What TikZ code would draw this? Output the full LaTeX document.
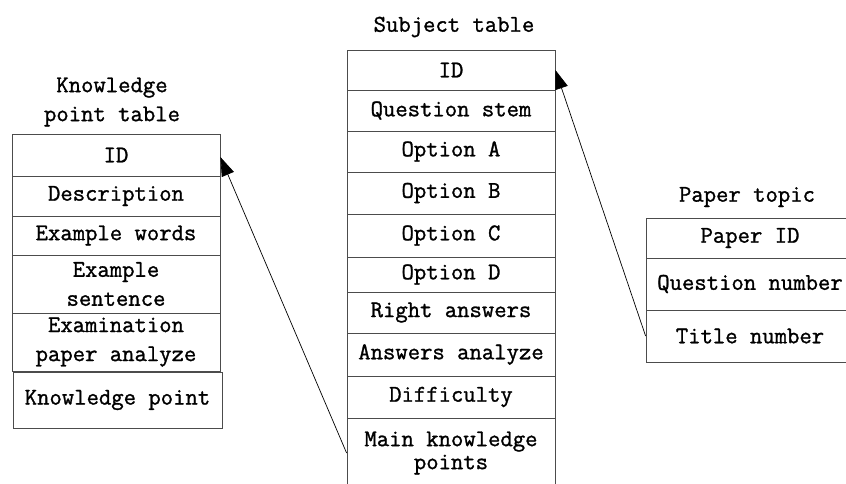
\documentclass[tikz,border=0pt]{standalone}
\usepackage{fontspec}
\newfontfamily\reffont{Latin Modern Mono}[RawFeature={embolden=1.2}]
\usetikzlibrary{arrows.meta}
\begin{document}
\begin{tikzpicture}[x=1pt,y=-1pt,
  txt/.style={font=\fontsize{24}{29}\selectfont\reffont, inner sep=0pt, align=center},
  cell/.style={txt, draw=black!70, line width=0.8pt, rectangle, minimum width=208pt},
  link/.style={draw=black, line width=0.7pt, -{Triangle[length=19pt,width=13pt]}}]
\useasboundingbox (0,0) rectangle (846,483);
\clip (0,0) rectangle (846,483);
% Knowledge point table
\node[txt] (ktitle) at (112,102) {Knowledge\\point table};
\node[cell, minimum height=42pt] (k1) at (116,155) {ID};
\node[cell, minimum height=40pt] (k2) at (116,196) {Description};
\node[cell, minimum height=39pt] (k3) at (116,235.5) {Example words};
\node[cell, minimum height=58pt] (k4) at (116,284) {Example\\sentence};
\node[cell, minimum height=58pt] (k5) at (116,342) {Examination\\paper analyze};
\node[cell, minimum height=56pt, minimum width=209pt] (k6) at (117.5,400) {Knowledge point};
% Subject table
\node[txt] (stitle) at (454,27) {Subject table};
\node[cell, minimum height=40pt] (s1) at (451,70) {ID};
\node[cell, minimum height=41pt] (s2) at (451,110.5) {Question stem};
\node[cell, minimum height=41pt] (s3) at (451,151.5) {Option A};
\node[cell, minimum height=42pt] (s4) at (451,193) {Option B};
\node[cell, minimum height=43pt] (s5) at (451,235.5) {Option C};
\node[cell, minimum height=35pt] (s6) at (451,274.5) {Option D};
\node[cell, minimum height=41pt] (s7) at (451,312.5) {Right answers};
\node[cell, minimum height=43pt] (s8) at (451,354.5) {Answers analyze};
\node[cell, minimum height=42pt] (s9) at (451,397) {Difficulty};
\node[cell, minimum height=70pt] (s10) at (451,453) {Main knowledge\\[-6pt]points};
% Paper topic
\node[txt] (ptitle) at (747,197) {Paper topic};
\node[cell, minimum height=40pt] (p1) at (750,238) {Paper ID};
\node[cell, minimum height=52pt] (p2) at (750,284) {Question number};
\node[cell, minimum height=52pt] (p3) at (750,336) {Title number};
% links
\draw[link] (s10.west) -- ([yshift=-2pt]k1.east);
\draw[link] (p3.west) -- (s1.east);
\end{tikzpicture}
\end{document}
